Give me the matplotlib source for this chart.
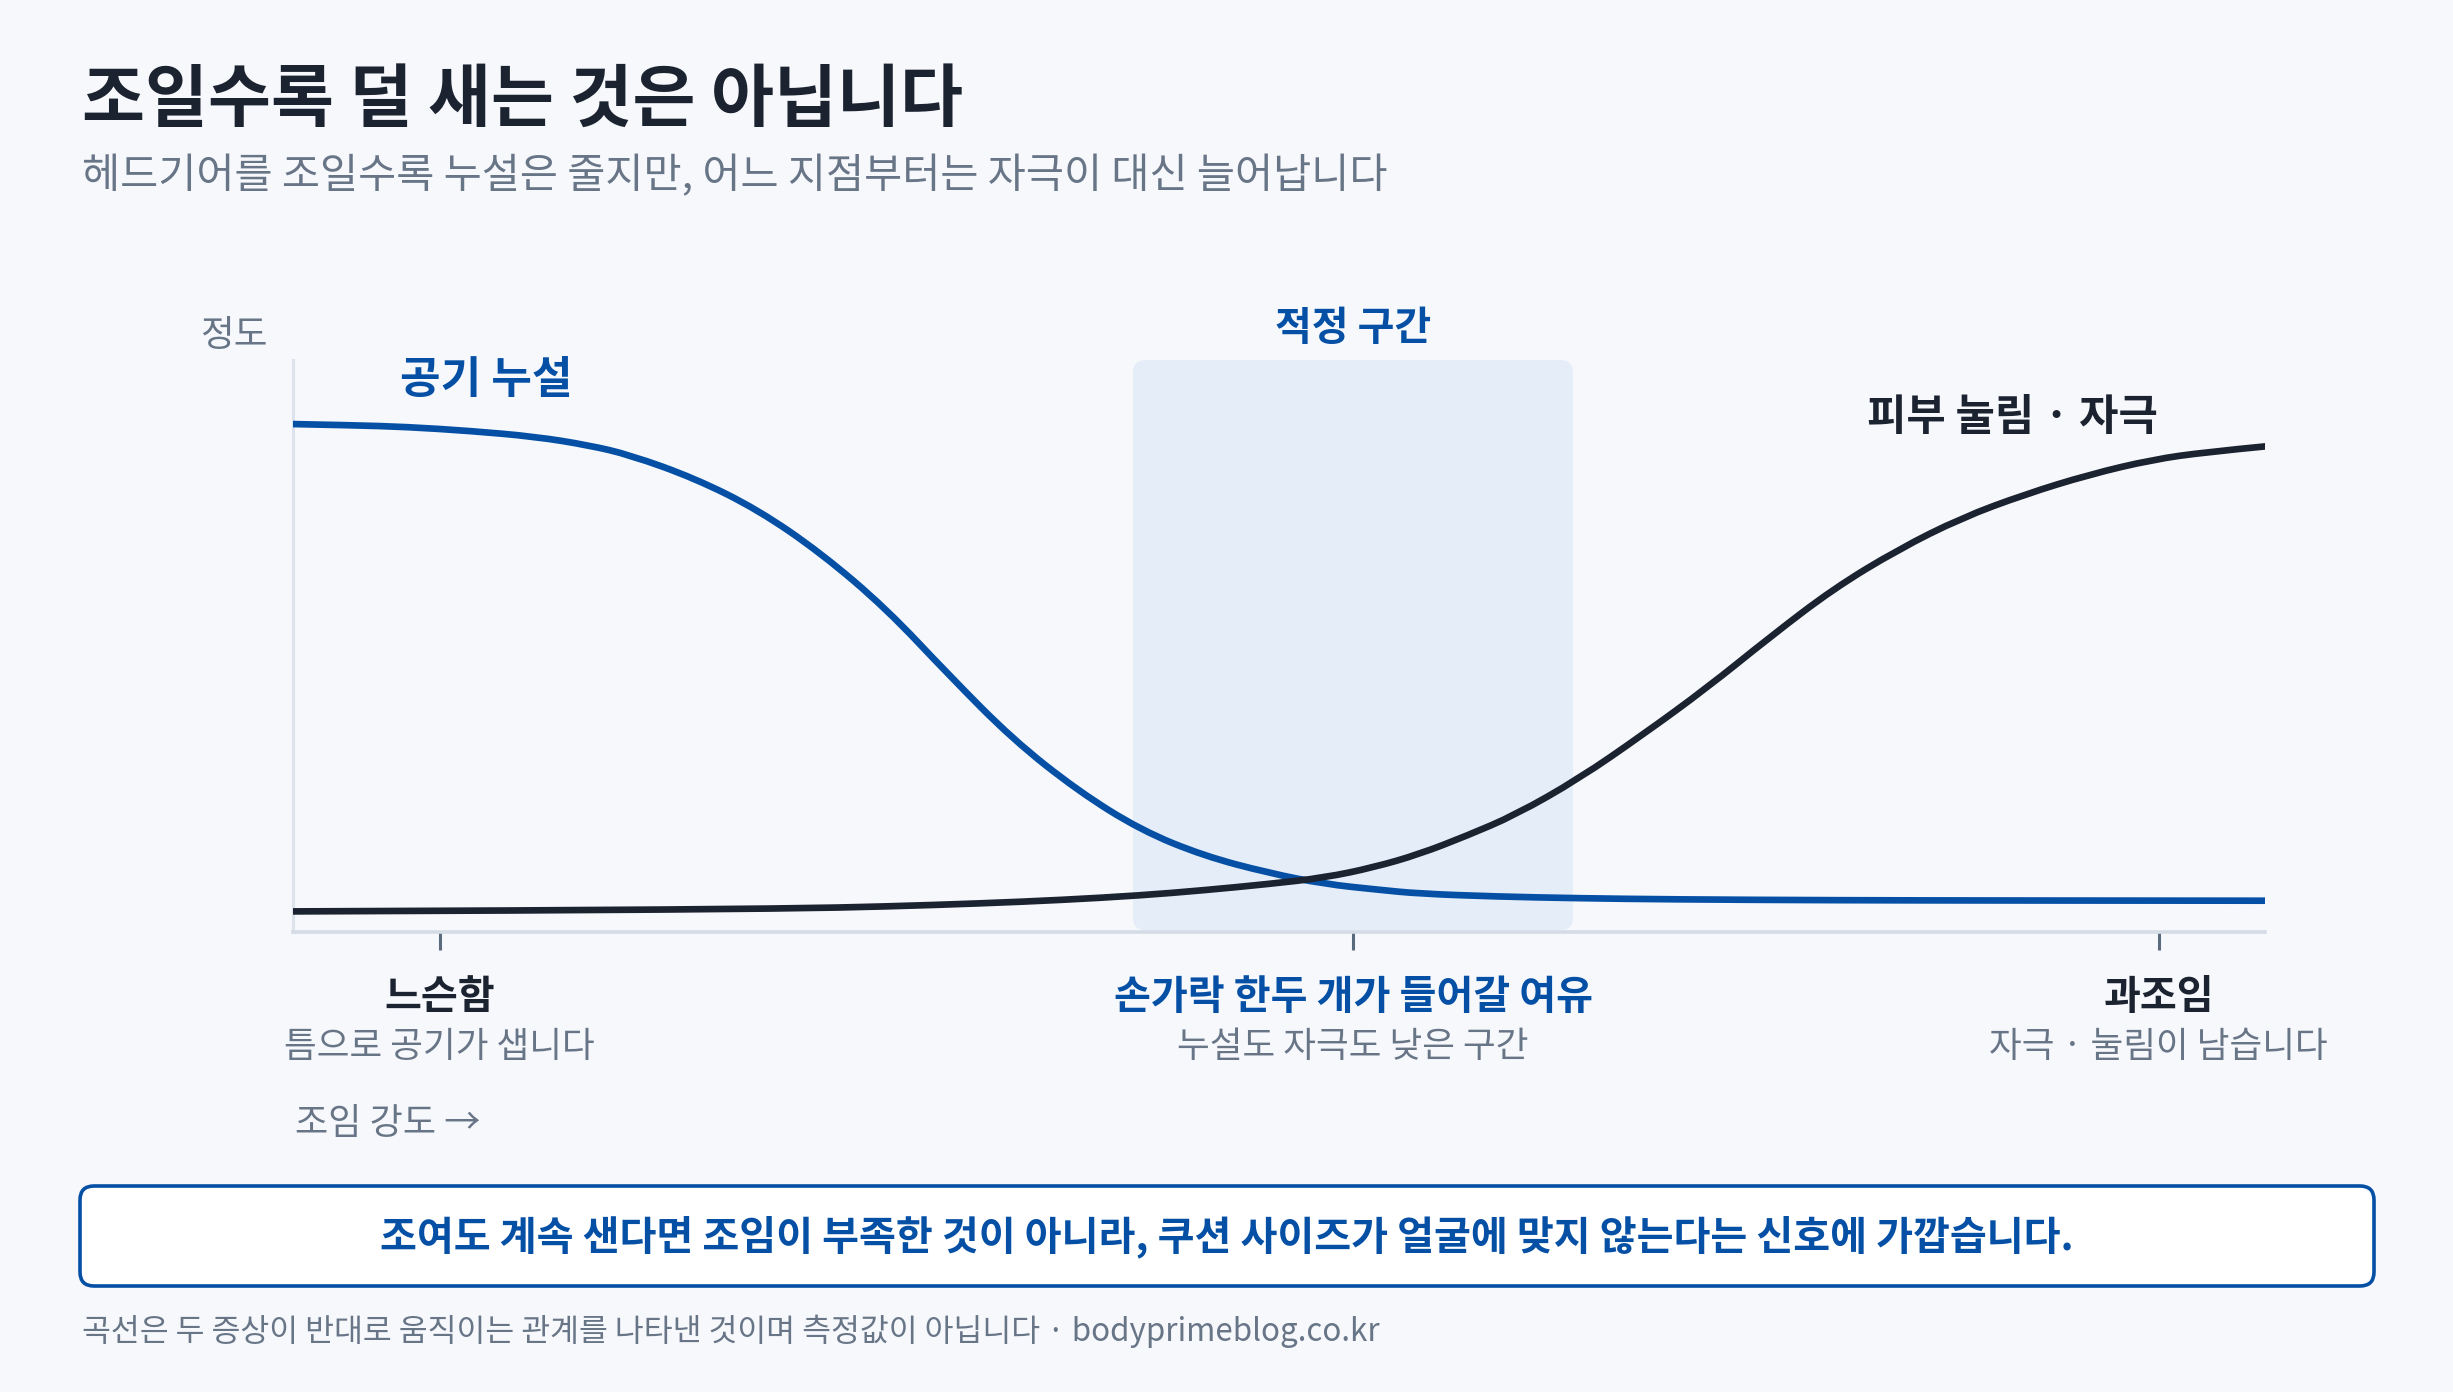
import matplotlib
matplotlib.use("Agg")
import matplotlib.pyplot as plt
from matplotlib.patches import FancyBboxPatch, PathPatch
from matplotlib.path import Path

plt.rcParams['font.family'] = ['Noto Sans CJK JP', 'DejaVu Sans']

# ---- data (x = 조임 강도 0-100, y = 정도 0-100) ----
leak_x = [0, 3, 5.8, 9, 12.3, 15, 17.1, 20.4, 23.6, 26.8, 30.1, 33.3, 36.5,
          39.8, 43.0, 46.2, 49.5, 52.3, 55, 57.1, 61, 65.2, 70, 78.1, 88, 100]
leak_y = [88.8, 88.6, 88.3, 87.6, 86.6, 85.1, 83.4, 79.3, 73.8, 66.2, 56.5,
          44.8, 33.7, 24.7, 17.8, 13.3, 10.3, 8.4, 7.4, 6.7, 6.2, 5.9, 5.7,
          5.55, 5.5, 5.47]

irr_x = [0, 12.3, 25.2, 30, 34.9, 39, 43.0, 46.2, 49.5, 52.3, 54.8, 57.1,
         59.5, 62.0, 65.2, 68.4, 71.7, 74.9, 78.1, 81.4, 84.6, 87.8, 91.1,
         94.3, 97, 100]
irr_y = [3.6, 3.75, 4.1, 4.45, 5.0, 5.6, 6.4, 7.3, 8.4, 9.5, 11.3, 13.6,
         16.8, 20.5, 26.8, 34.4, 42.7, 51.6, 60.0, 66.9, 72.4, 76.5, 80.0,
         82.6, 83.9, 84.9]

zone = (42.6, 64.9)
tick_pos = [7.45, 53.76, 94.6]
tick_titles = ['느슨함', '손가락 한두 개가 들어갈 여유', '과조임']
tick_notes = ['틈으로 공기가 샙니다', '누설도 자극도 낮은 구간', '자극 · 눌림이 남습니다']
tick_colors = ['#1c2330', '#0550a5', '#1c2330']

title = '조일수록 덜 새는 것은 아닙니다'
subtitle = '헤드기어를 조일수록 누설은 줄지만, 어느 지점부터는 자극이 대신 늘어납니다'
callout = '조여도 계속 샌다면 조임이 부족한 것이 아니라, 쿠션 사이즈가 얼굴에 맞지 않는다는 신호에 가깝습니다.'
footer = '곡선은 두 증상이 반대로 움직이는 관계를 나타낸 것이며 측정값이 아닙니다 · bodyprimeblog.co.kr'

BG = '#f6f8fc'
BLUE = '#0550a5'
DARK = '#1c2330'
GRAY = '#687587'


def smooth_path(xs, ys):
    # quadratic segments with the read points as control points
    pts = list(zip(xs, ys))
    verts = [pts[0]]
    codes = [Path.MOVETO]
    for i in range(1, len(pts) - 1):
        mid = ((pts[i][0] + pts[i + 1][0]) / 2, (pts[i][1] + pts[i + 1][1]) / 2)
        if i == len(pts) - 2:
            mid = pts[-1]
        verts += [pts[i], mid]
        codes += [Path.CURVE3, Path.CURVE3]
    return Path(verts, codes)


W, H = 2453, 1392
fig = plt.figure(figsize=(W / 100, H / 100), dpi=100, facecolor=BG)

# overlay in pixel units for page furniture
pg = fig.add_axes([0, 0, 1, 1], zorder=0)
pg.set_xlim(0, W)
pg.set_ylim(H, 0)
pg.axis('off')

# main plot area
ax = fig.add_axes([292.6 / W, 1 - 932 / H, 1972.8 / W, 572 / H], zorder=1)
ax.set_facecolor('none')
ax.set_xlim(0, 100)
ax.set_ylim(0, 100)

# sweet-spot zone
zone_box = FancyBboxPatch((zone[0], 0.3), zone[1] - zone[0], 99.7,
                          boxstyle='round,pad=0,rounding_size=0.65',
                          mutation_aspect=3.45, fc='#e5edf8', ec='none', zorder=1)
ax.add_patch(zone_box)

ax.add_patch(PathPatch(smooth_path(leak_x, leak_y), fc='none', ec=BLUE,
                       lw=4.8, capstyle='butt', zorder=3))
ax.add_patch(PathPatch(smooth_path(irr_x, irr_y), fc='none', ec=DARK,
                       lw=4.8, capstyle='butt', zorder=4))

for s in ['top', 'right']:
    ax.spines[s].set_visible(False)
ax.spines['left'].set_color('#dce3ec')
ax.spines['left'].set_linewidth(2.2)
ax.spines['bottom'].set_color('#d5dce6')
ax.spines['bottom'].set_linewidth(2.6)
ax.set_yticks([])
ax.set_xticks(tick_pos, labels=[''] * len(tick_pos))
ax.tick_params(axis='x', length=13, width=2.2, color='#5b6b7e')

xt = ax.get_xaxis_transform()
for x, t, n, c in zip(tick_pos, tick_titles, tick_notes, tick_colors):
    ax.text(x, -0.115, t, transform=xt, ha='center', va='center',
            fontsize=28.9, fontweight='bold', color=c)
    ax.text(x, -0.201, n, transform=xt, ha='center', va='center',
            fontsize=25.6, color=GRAY)

ax.text(0.1, -0.335, '조임 강도 →', transform=xt, ha='left', va='center',
        fontsize=26, color=GRAY)
ax.text(-2.97, 104.2, '정도', ha='center', va='center', fontsize=26.4,
        color=GRAY, clip_on=False)
ax.text(9.8, 96.5, '공기 누설', ha='center', va='center', fontsize=31.8,
        fontweight='bold', color=BLUE, clip_on=False)
ax.text(sum(zone) / 2, 105.5, '적정 구간', ha='center', va='center', fontsize=28.8,
        fontweight='bold', color=BLUE, clip_on=False)
ax.text(87.2, 90.0, '피부 눌림 · 자극', ha='center', va='center', fontsize=30.8,
        fontweight='bold', color=DARK, clip_on=False)

# titles
pg.text(82, 101, title, ha='left', va='center', fontsize=49.3,
        fontweight='bold', color=DARK)
pg.text(82, 176, subtitle, ha='left', va='center', fontsize=29.8, color=GRAY)

# callout box
pg.add_patch(FancyBboxPatch((80, 1186), 2294, 100,
                            boxstyle='round,pad=0,rounding_size=14',
                            fc='white', ec=BLUE, lw=2.6))
pg.text(1227, 1237, callout, ha='center', va='center', fontsize=28.9,
        fontweight='bold', color=BLUE)

pg.text(82, 1331, footer, ha='left', va='center', fontsize=22.6, color=GRAY)

fig.savefig('out.png', dpi=100, facecolor=BG)
